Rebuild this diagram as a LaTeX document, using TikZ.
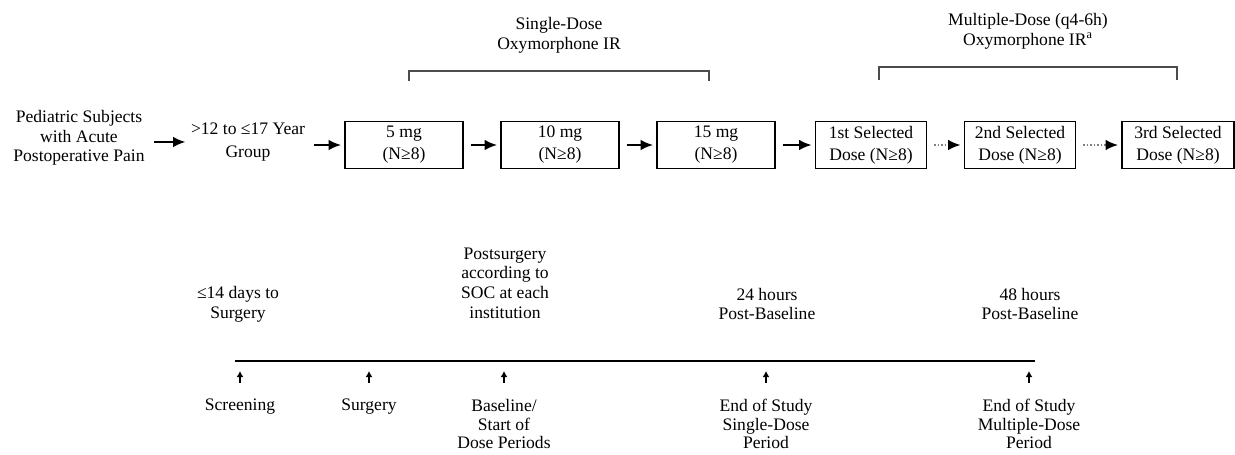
\documentclass[tikz,border=0pt]{standalone}
\usepackage{fontspec}
\setmainfont{Liberation Serif}
\usetikzlibrary{arrows.meta,positioning,calc}
\tikzstyle{lbl}=[align=center,inner sep=1pt,font=\fontsize{10}{11.2}\selectfont]
\tikzstyle{low}=[lbl,font=\fontsize{10}{10.6}\selectfont]
\tikzstyle{dosebox}=[lbl,font=\fontsize{10}{12.5}\selectfont,draw,line width=0.6pt,minimum width=2.36cm,minimum height=0.94cm]
\tikzstyle{flow}=[-{Latex[length=7pt,width=6pt]},line width=1pt,shorten <=4pt,shorten >=2pt]
\tikzstyle{dotflow}=[flow,densely dotted,gray,-{Latex[length=7pt,width=6pt,color=black,sep=0pt]}]
\tikzstyle{tick}=[-{Latex[length=3.5pt,width=4pt]},line width=1.2pt]
\tikzstyle{bracket}=[draw,gray!60!black,line width=0.8pt]

\begin{document}
\begin{tikzpicture}[x=0.02cm,y=-0.02cm]
\clip (0,0) rectangle (1235,455);
% top row
\node [lbl] (subj) at (79,138) {Pediatric Subjects\\with Acute\\Postoperative Pain};
\node [lbl,font=\fontsize{10}{13}\selectfont] (grp) at (248,142) {>12 to ≤17 Year\\Group};
\node [dosebox] (d5) at (404,145) {5 mg\\(N≥8)};
\node [dosebox] (d10) at (560,145) {10 mg\\(N≥8)};
\node [dosebox] (d15) at (716,145) {15 mg\\(N≥8)};
\node [dosebox,minimum width=2.22cm] (s1) at (871,145) {1st Selected\\Dose (N≥8)};
\node [dosebox,minimum width=2.22cm] (s2) at (1020,145) {2nd Selected\\Dose (N≥8)};
\node [dosebox,minimum width=2.24cm] (s3) at (1178,145) {3rd Selected\\Dose (N≥8)};

\draw [flow] (subj.east |- grp) -- (grp.west);
\draw [flow] (grp.east |- d5.west) -- (d5.west);
\foreach \a/\b in {d5/d10,d10/d15,d15/s1}
  \draw [flow] (\a.east) -- (\b.west);
\draw [dotflow] (s1.east) -- (s2.west);
\draw [dotflow] (s2.east) -- (s3.west);

% brackets
\node [lbl] (single) at (559,35) {Single-Dose\\Oxymorphone IR};
\node [lbl] (multi) at (1028,31) {Multiple-Dose (q4-6h)\\Oxymorphone IR\textsuperscript{a}};
\coordinate (sl) at (409,81);
\coordinate (sr) at (709,81);
\coordinate (ml) at (879,80);
\coordinate (mr) at (1177,80);
\draw [bracket] (sl) -- ++(0,-10) -| (sr);
\draw [bracket] (ml) -- ++(0,-13) -| (mr);

% time spans
\node [lbl] (wait) at (238,304) {≤14 days to\\Surgery};
\node [lbl] (post) at (505,283) {Postsurgery\\according to\\SOC at each\\institution};
\node [lbl] (h24) at (767,304) {24 hours\\Post-Baseline};
\node [lbl] (h48) at (1030,304) {48 hours\\Post-Baseline};

% timeline
\coordinate (t0) at (235,361);
\coordinate (t1) at (1035,361);
\draw [line width=0.9pt] (t0) -- (t1);
\foreach \x in {240,369,504,766,1029}
  \draw [tick] (\x,383) -- (\x,371);

\node [low] (scr) at (240,407) {Screening};
\node [low] (surg) at (369,407) {Surgery};
\node [low] (base) at (504,424) {Baseline/\\Start of\\Dose Periods};
\node [low] (eos1) at (766,424) {End of Study\\Single-Dose\\Period};
\node [low] (eos2) at (1029,424) {End of Study\\Multiple-Dose\\Period};
\end{tikzpicture}
\end{document}
